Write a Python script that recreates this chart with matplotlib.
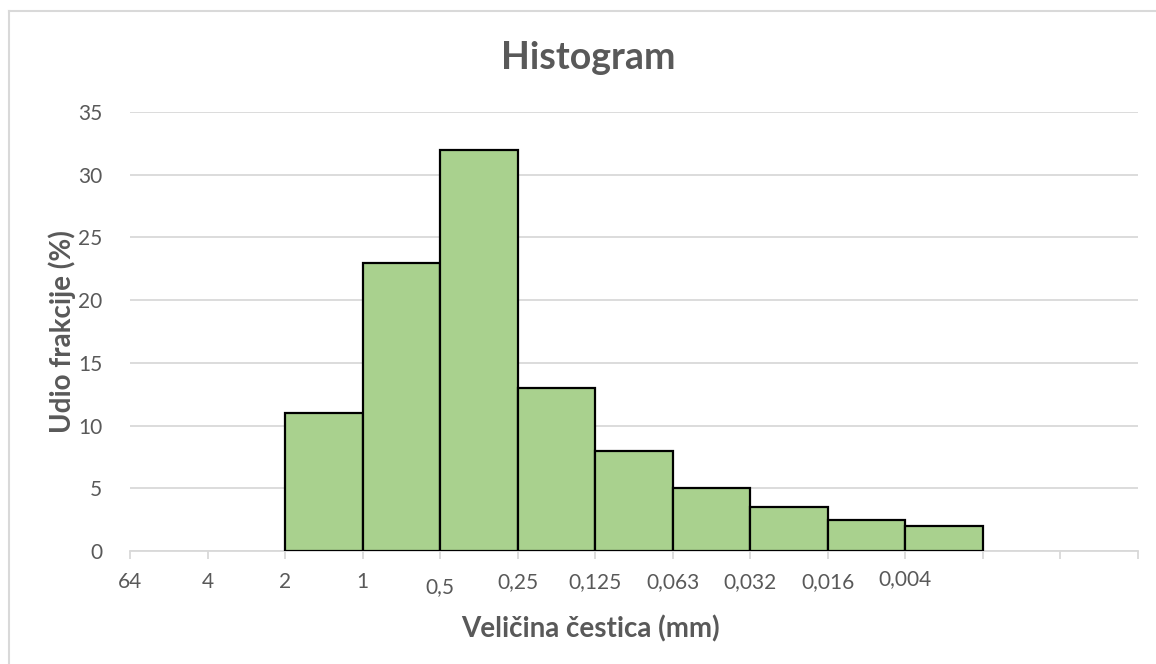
import matplotlib.pyplot as plt
from matplotlib.lines import Line2D

plt.rcParams['font.family'] = ['Lato', 'DejaVu Sans']

# bin edges (mm), one label per boundary; last slots carry no label
edge_labels = ["64", "4", "2", "1", "0,5", "0,25", "0,125", "0,063",
               "0,032", "0,016", "0,004", "", "", ""]
# fractions (%) for the bins starting at "2"
first_bin = 2
fractions = [11, 23, 32, 13, 8, 5, 3.5, 2.5, 2]

grey = '#595959'

fig = plt.figure(figsize=(11.56, 6.64), dpi=100)
ax = fig.add_axes([130/1156, 1 - 551/664, 1008/1156, 439/664])

xs = [first_bin + i for i in range(len(fractions))]
ax.bar(xs, fractions, width=1.0, align='edge', color='#A9D18E',
       edgecolor='black', linewidth=1.6, zorder=3)

ax.set_xlim(0, len(edge_labels) - 1)
ax.set_ylim(0, 35)
ax.set_yticks(range(0, 36, 5))
ax.set_xticks(range(len(edge_labels)))
ax.set_xticklabels(edge_labels)

ax.grid(axis='y', color='#D9D9D9', linewidth=1.3, zorder=0)
for s in ['top', 'right', 'left']:
    ax.spines[s].set_visible(False)
ax.spines['bottom'].set_color('#D9D9D9')
ax.spines['bottom'].set_linewidth(1.3)
ax.tick_params(axis='x', colors='#D9D9D9', length=6, width=1.3,
               labelcolor=grey, labelsize=15, pad=9)
ax.tick_params(axis='y', length=0, labelcolor=grey, labelsize=15, pad=20)

# Excel nudges a couple of labels
for lbl in ax.get_xticklabels():
    if lbl.get_text() == "0,5":
        lbl.set_y(-0.012)
    elif lbl.get_text() == "0,004":
        lbl.set_y(0.006)

ax.set_xlabel('Veličina čestica (mm)', fontsize=20, fontweight='bold',
              color=grey)
ax.xaxis.set_label_coords((590 - 130) / 1008, -(629 - 551) / 439)
ax.xaxis.label.set_va('center')
ax.set_ylabel('Udio frakcije (%)', fontsize=20, fontweight='bold',
              color=grey)
ax.yaxis.set_label_coords(-(130 - 62) / 1008, 0.5)
ax.yaxis.label.set_va('center')
fig.text(588/1156, 1 - 58/664, 'Histogram', fontsize=27, fontweight='bold',
         color=grey, ha='center', va='center')

# chart frame
fig.add_artist(Line2D([9/1156, 1], [1 - 11/664, 1 - 11/664],
                      color='#D9D9D9', linewidth=1.5))
fig.add_artist(Line2D([9/1156, 9/1156], [0, 1 - 11/664],
                      color='#D9D9D9', linewidth=1.5))

fig.savefig('out.png', dpi=100)
